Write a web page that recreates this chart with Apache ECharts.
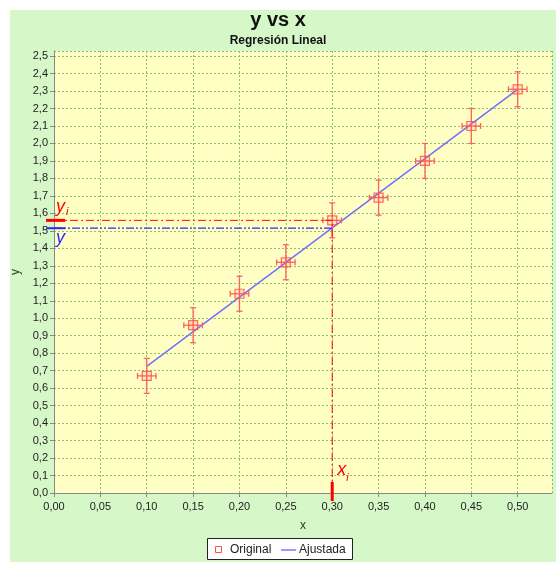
<!DOCTYPE html>
<html><head><meta charset="utf-8">
<script src="https://cdn.jsdelivr.net/npm/echarts@6/dist/echarts.min.js"></script>
<style>html,body{margin:0;padding:0;background:#fff}#c{width:556px;height:562px}</style>
</head><body><div id="c"></div>
<script>
// Data
const xVals = [0.10, 0.15, 0.20, 0.25, 0.30, 0.35, 0.40, 0.45, 0.50];
const yVals = [0.67, 0.96, 1.14, 1.32, 1.56, 1.69, 1.90, 2.10, 2.31];
const xErr  = [0.01, 0.01, 0.01, 0.01, 0.01, 0.01, 0.01, 0.01, 0.01];
const yErr  = [0.10, 0.10, 0.10, 0.10, 0.10, 0.10, 0.10, 0.10, 0.10];
const fitX = [0.10, 0.50];
const fitY = [0.725, 2.31];
const xi = 0.30, yi = 1.56, yHat = 1.515;
const xMin = 0, xMax = 0.537, xStep = 0.05;
const yMin = 0, yMax = 2.529, yStep = 0.1;

const FONT = 'Liberation Sans';
const RED = '#ff0000', BLUE = '#2a2aff';
const ERR = '#ff6060';

const chart = echarts.init(document.getElementById('c'), null, {renderer: 'canvas'});

const errData = xVals.map((x, i) => [x, yVals[i], xErr[i], yErr[i]]);
const ptData = xVals.map((x, i) => [x, yVals[i]]);
const fitData = fitX.map((x, i) => [x, fitY[i]]);

function errRender(params, api) {
  const x = api.value(0), y = api.value(1), ex = api.value(2), ey = api.value(3);
  const t = api.coord([x, y + ey]), b = api.coord([x, y - ey]);
  const l = api.coord([x - ex, y]), r = api.coord([x + ex, y]);
  const cap = 3;
  const st = {stroke: ERR, lineWidth: 1.3};
  const L = (x1, y1, x2, y2) => ({type: 'line', shape: {x1, y1, x2, y2}, style: st});
  return {type: 'group', children: [
    L(t[0], t[1], b[0], b[1]),
    L(t[0] - cap, t[1], t[0] + cap, t[1]),
    L(b[0] - cap, b[1], b[0] + cap, b[1]),
    L(l[0], l[1], r[0], r[1]),
    L(l[0], l[1] - cap, l[0], l[1] + cap),
    L(r[0], r[1] - cap, r[0], r[1] + cap)
  ]};
}

function annRender(params, api) {
  const X = api.value(0), Y = api.value(1), H = api.value(2);
  const pYi0 = api.coord([0, Y]), pYi = api.coord([X, Y]);
  const pH0 = api.coord([0, H]), pH = api.coord([X, H]);
  const pX0 = api.coord([X, 0]);
  const ch = [];
  ch.push({type: 'line', shape: {x1: pYi0[0], y1: pYi0[1], x2: pYi[0], y2: pYi[1]},
    style: {stroke: RED, lineWidth: 1, lineDash: [8, 3, 2, 3]}});
  ch.push({type: 'line', shape: {x1: pH0[0], y1: pH0[1], x2: pH[0], y2: pH[1]},
    style: {stroke: BLUE, lineWidth: 1.2, lineDash: [8, 2, 2, 2, 2, 2]}});
  ch.push({type: 'line', shape: {x1: pX0[0], y1: pX0[1], x2: pYi[0], y2: pYi[1]},
    style: {stroke: RED, lineWidth: 1, lineDash: [8, 3, 2, 3]}});
  ch.push({type: 'line', shape: {x1: pYi0[0] - 8, y1: pYi0[1], x2: pYi0[0] + 11, y2: pYi0[1]},
    style: {stroke: RED, lineWidth: 3}});
  ch.push({type: 'line', shape: {x1: pH0[0] - 8, y1: pH0[1], x2: pH0[0] + 11, y2: pH0[1]},
    style: {stroke: BLUE, lineWidth: 2}});
  ch.push({type: 'line', shape: {x1: pX0[0], y1: pX0[1] + 8, x2: pX0[0], y2: pX0[1] - 11},
    style: {stroke: RED, lineWidth: 3}});
  const it = (text, x, y, size, color, va) => ({type: 'text', x, y, style: {
    text, fill: color, font: 'italic ' + size + 'px "' + FONT + '"', textAlign: 'left', textVerticalAlign: va || 'bottom'}});
  ch.push(it('y', pYi0[0] + 2, pYi0[1] - 4, 18, RED));
  ch.push(it('i', pYi0[0] + 12, pYi0[1] - 3, 11, RED));
  ch.push(it('y', pH0[0] + 2, pH0[1] + 1, 18, BLUE, 'top'));
  ch.push(it('x', pX0[0] + 5, pX0[1] - 14, 18, RED));
  ch.push(it('i', pX0[0] + 14, pX0[1] - 10, 11, RED));
  return {type: 'group', children: ch};
}

const fmt = d => v => {
  const step = d === 2 ? xStep : yStep;
  const snapped = Math.round(v / step) * step;
  if (Math.abs(snapped - v) > 1e-6) return '';
  return snapped.toFixed(d).replace('.', ',');
};

const gridLine = {show: true, lineStyle: {color: '#8cc06a', type: [2, 2], width: 1}};
const axisLbl = {color: '#222', fontFamily: FONT, fontSize: 11};

chart.setOption({
  backgroundColor: '#ffffff',
  animation: false,
  title: {
    text: 'y vs x', subtext: 'Regresión Lineal', left: 'center', top: 4, itemGap: 3,
    textStyle: {fontFamily: FONT, fontWeight: 'bold', fontSize: 20, color: '#111', lineHeight: 22},
    subtextStyle: {fontFamily: FONT, fontWeight: 'bold', fontSize: 12, color: '#111', lineHeight: 14}
  },
  graphic: [
    {type: 'rect', z: -100, silent: true, shape: {x: 10, y: 10, width: 546, height: 552}, style: {fill: '#d6f8c8'}},
    {type: 'group', z: 100, children: [
      {type: 'rect', shape: {x: 207.5, y: 538.5, width: 145, height: 21}, style: {fill: '#ffffff', stroke: '#222', lineWidth: 1}},
      {type: 'rect', shape: {x: 215.5, y: 546.5, width: 6, height: 6}, style: {fill: 'none', stroke: '#ff5050', lineWidth: 1}},
      {type: 'text', x: 230, y: 550, style: {text: 'Original', fill: '#222', font: '12px "' + FONT + '"', textVerticalAlign: 'middle'}},
      {type: 'line', shape: {x1: 281, y1: 550, x2: 296, y2: 550}, style: {stroke: '#7878ff', lineWidth: 1.5}},
      {type: 'text', x: 299, y: 550, style: {text: 'Ajustada', fill: '#222', font: '12px "' + FONT + '"', textVerticalAlign: 'middle'}}
    ]}
  ],
  grid: {left: 54, right: 4, top: 51, bottom: 69, show: true, backgroundColor: '#ffffc4', borderWidth: 0},
  xAxis: {
    type: 'value', min: xMin, max: xMax, interval: xStep,
    name: 'x', nameLocation: 'middle', nameGap: 27,
    nameTextStyle: {color: '#333', fontFamily: FONT, fontSize: 12},
    axisLine: {show: true, lineStyle: {color: '#888'}},
    axisTick: {show: true, length: 4, lineStyle: {color: '#888'}},
    axisLabel: Object.assign({formatter: fmt(2), showMaxLabel: false, margin: 8}, axisLbl),
    splitLine: gridLine
  },
  yAxis: {
    type: 'value', min: yMin, max: yMax, interval: yStep,
    name: 'y', nameLocation: 'middle', nameGap: 30,
    nameTextStyle: {color: '#333', fontFamily: FONT, fontSize: 12},
    axisLine: {show: true, lineStyle: {color: '#888'}},
    axisTick: {show: true, length: 4, lineStyle: {color: '#888'}},
    axisLabel: Object.assign({formatter: fmt(1), showMaxLabel: false, margin: 6}, axisLbl),
    splitLine: gridLine
  },
  series: [
    {name: 'Ajustada', type: 'line', data: fitData, showSymbol: false, z: 3,
      lineStyle: {color: '#7070ff', width: 1.5}},
    {name: 'ErrorBars', type: 'custom', data: errData, renderItem: errRender, z: 4},
    {name: 'Original', type: 'scatter', data: ptData, symbol: 'rect', symbolSize: 9, z: 5,
      itemStyle: {color: 'rgba(255,80,80,0.15)', borderColor: '#ff4a4a', borderWidth: 1.2}},
    {name: 'Annot', type: 'custom', data: [[xi, yi, yHat]], renderItem: annRender, z: 6, clip: false}
  ]
});
</script></body></html>
